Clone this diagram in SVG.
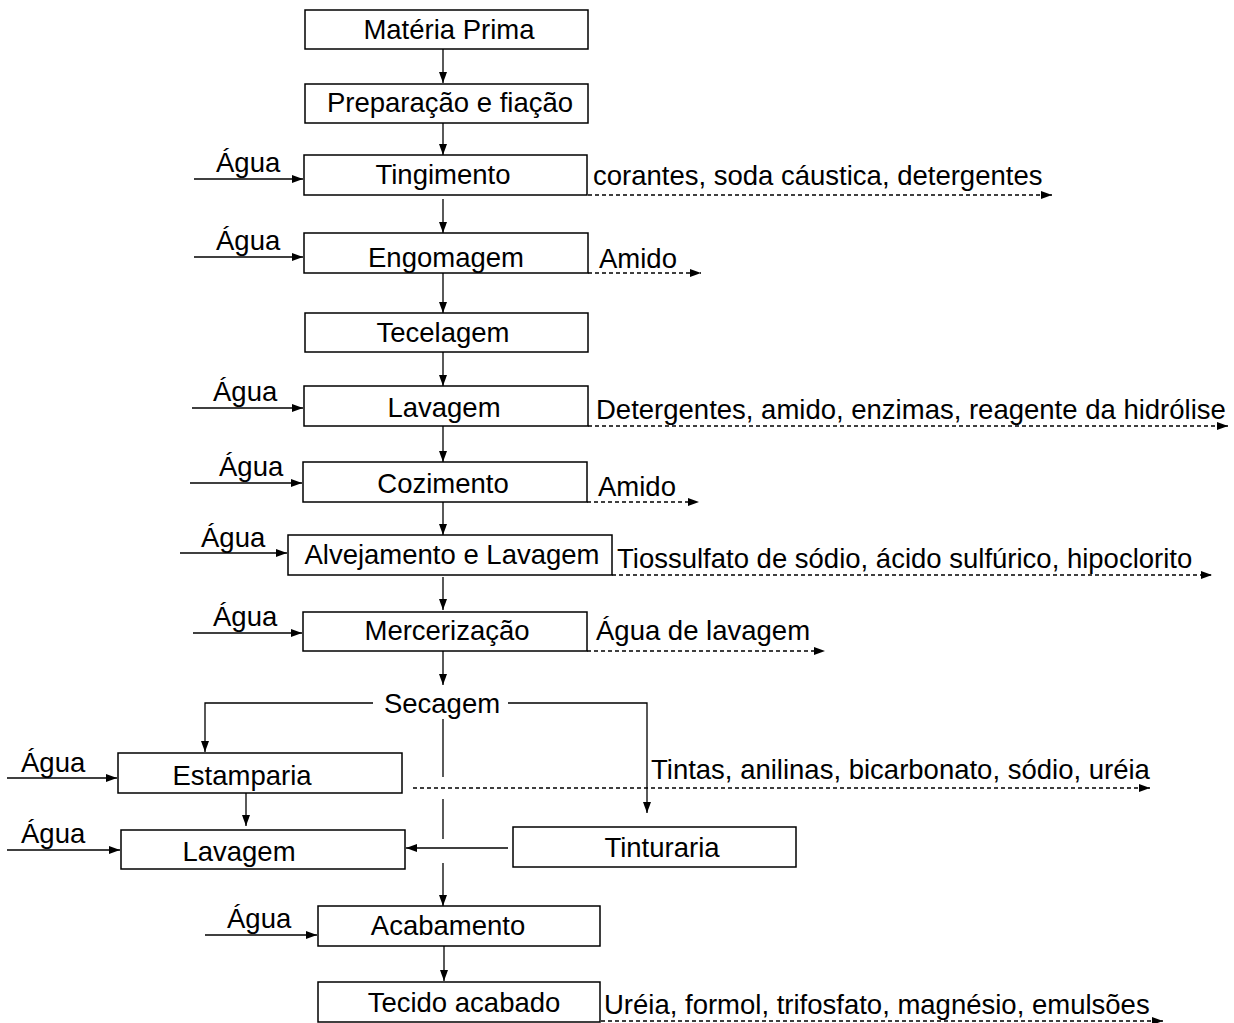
<svg xmlns="http://www.w3.org/2000/svg" width="1234" height="1023" viewBox="0 0 1234 1023">
<style>
.box{fill:#fff;stroke:#000;stroke-width:1.5}
text{font-family:"Liberation Sans",Arial,sans-serif;font-size:27.5px;fill:#000}
.c{text-anchor:middle}
.ln{stroke:#000;stroke-width:1.3;fill:none}
.ar{stroke:#000;stroke-width:1.3;fill:none;marker-end:url(#ah)}
.da{stroke:#000;stroke-width:1.3;fill:none;stroke-dasharray:4,3;marker-end:url(#ah)}
</style>
<defs>
<marker id="ah" markerUnits="userSpaceOnUse" markerWidth="12" markerHeight="9" refX="11" refY="4" orient="auto">
<path d="M0,0 L11,4 L0,8 z" fill="#000"/>
</marker>
</defs>
<rect width="1234" height="1023" fill="#fff"/>
<g id="connectors">
<line class="ar" x1="443" y1="49" x2="443" y2="83"/>
<line class="ar" x1="443" y1="123" x2="443" y2="155"/>
<line class="ar" x1="443" y1="199" x2="443" y2="233"/>
<line class="ar" x1="443" y1="273" x2="443" y2="313"/>
<line class="ar" x1="443" y1="352" x2="443" y2="386"/>
<line class="ar" x1="443" y1="426" x2="443" y2="462"/>
<line class="ar" x1="443" y1="502" x2="443" y2="535"/>
<line class="ar" x1="443" y1="577" x2="443" y2="610"/>
<line class="ar" x1="443" y1="651" x2="443" y2="685"/>
<polyline class="ar" points="373,703 205,703 205,752"/>
<polyline class="ar" points="508,703 647,703 647,813"/>
<line class="ln" x1="443" y1="719" x2="443" y2="777"/>
<line class="ln" x1="443" y1="799" x2="443" y2="839"/>
<line class="ar" x1="443" y1="863" x2="443" y2="906"/>
<line class="ar" x1="246" y1="793" x2="246" y2="826"/>
<line class="ar" x1="508" y1="848" x2="406" y2="848"/>
<line class="ar" x1="444" y1="946" x2="444" y2="981"/>
<line class="ar" x1="194" y1="179" x2="303" y2="179"/>
<line class="ar" x1="194" y1="257" x2="303" y2="257"/>
<line class="ar" x1="192" y1="408" x2="303" y2="408"/>
<line class="ar" x1="190" y1="483" x2="302" y2="483"/>
<line class="ar" x1="180" y1="553" x2="287" y2="553"/>
<line class="ar" x1="193" y1="633" x2="302" y2="633"/>
<line class="ar" x1="7" y1="778" x2="117" y2="778"/>
<line class="ar" x1="7" y1="850" x2="120" y2="850"/>
<line class="ar" x1="205" y1="935" x2="317" y2="935"/>
<line class="da" x1="588" y1="195" x2="1052" y2="195"/>
<line class="da" x1="588" y1="273" x2="701" y2="273"/>
<line class="da" x1="588" y1="426" x2="1228" y2="426"/>
<line class="da" x1="587" y1="502" x2="699" y2="502"/>
<line class="da" x1="612" y1="575" x2="1212" y2="575"/>
<line class="da" x1="587" y1="651" x2="825" y2="651"/>
<line class="da" x1="413" y1="788" x2="1150" y2="788"/>
<line class="da" x1="601" y1="1021" x2="1163" y2="1021"/>
</g>
<g id="n-materia"><rect class="box" x="305" y="10" width="283" height="39"/><text class="c" x="449" y="39">Matéria Prima</text></g>
<g id="n-preparacao"><rect class="box" x="305" y="84" width="283" height="39"/><text class="c" x="450" y="112">Preparação e fiação</text></g>
<g id="n-tingimento"><rect class="box" x="304" y="155" width="283" height="40"/><text class="c" x="443" y="184">Tingimento</text></g>
<g id="n-engomagem"><rect class="box" x="304" y="233" width="284" height="40"/><text class="c" x="446" y="267">Engomagem</text></g>
<g id="n-tecelagem"><rect class="box" x="305" y="313" width="283" height="39"/><text class="c" x="443" y="342">Tecelagem</text></g>
<g id="n-lavagem1"><rect class="box" x="304" y="386" width="284" height="40"/><text class="c" x="444" y="417">Lavagem</text></g>
<g id="n-cozimento"><rect class="box" x="303" y="462" width="284" height="40"/><text class="c" x="443" y="493">Cozimento</text></g>
<g id="n-alvejamento"><rect class="box" x="288" y="535" width="324" height="40"/><text class="c" x="452" y="564">Alvejamento e Lavagem</text></g>
<g id="n-mercerizacao"><rect class="box" x="303" y="612" width="284" height="39"/><text class="c" x="447" y="640">Mercerização</text></g>
<g id="n-secagem"><text class="c" x="442" y="713">Secagem</text></g>
<g id="n-estamparia"><rect class="box" x="118" y="753" width="284" height="40"/><text class="c" x="242" y="785">Estamparia</text></g>
<g id="n-lavagem2"><rect class="box" x="121" y="830" width="284" height="39"/><text class="c" x="239" y="861">Lavagem</text></g>
<g id="n-tinturaria"><rect class="box" x="513" y="827" width="283" height="40"/><text class="c" x="662" y="857">Tinturaria</text></g>
<g id="n-acabamento"><rect class="box" x="318" y="906" width="282" height="40"/><text class="c" x="448" y="935">Acabamento</text></g>
<g id="n-tecido"><rect class="box" x="318" y="982" width="282" height="40"/><text class="c" x="464" y="1012">Tecido acabado</text></g>
<g id="labels">
<text x="216" y="172">Água</text>
<text x="216" y="250">Água</text>
<text x="213" y="401">Água</text>
<text x="219" y="476">Água</text>
<text x="201" y="547">Água</text>
<text x="213" y="626">Água</text>
<text x="21" y="772">Água</text>
<text x="21" y="843">Água</text>
<text x="227" y="928">Água</text>
<text x="593" y="185">corantes, soda cáustica, detergentes</text>
<text x="599" y="268">Amido</text>
<text x="596" y="419">Detergentes, amido, enzimas, reagente da hidrólise</text>
<text x="598" y="496">Amido</text>
<text x="617" y="568">Tiossulfato de sódio, ácido sulfúrico, hipoclorito</text>
<text x="596" y="640">Água de lavagem</text>
<text x="651" y="779">Tintas, anilinas, bicarbonato, sódio, uréia</text>
<text x="604" y="1014">Uréia, formol, trifosfato, magnésio, emulsões</text>
</g>
</svg>
